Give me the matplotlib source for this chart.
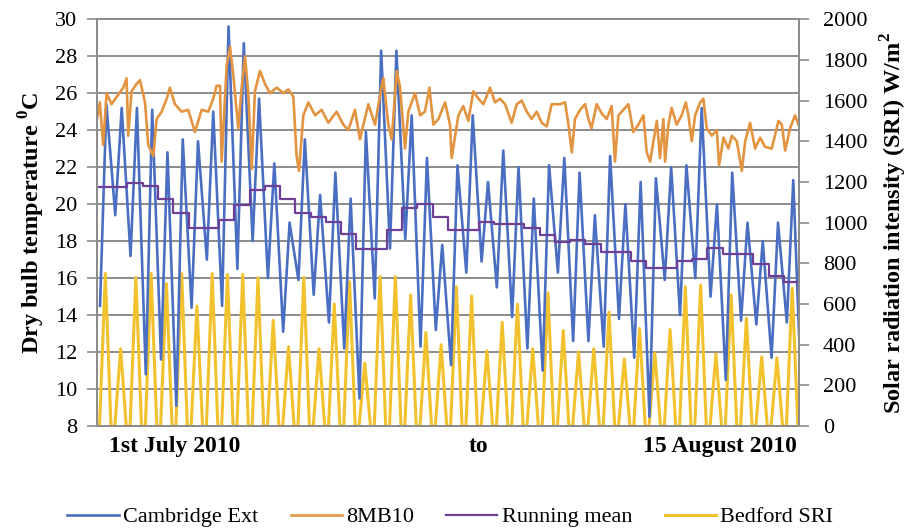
import matplotlib.pyplot as plt
import matplotlib as mpl
import numpy as np

mpl.rcParams['font.family'] = ['Liberation Serif', 'DejaVu Serif']
mpl.rcParams['mathtext.fontset'] = 'custom'
mpl.rcParams['mathtext.rm'] = 'Liberation Serif'
mpl.rcParams['mathtext.bf'] = 'Liberation Serif:bold'

# 数据：以天为单位（0 = 1st July 2010）
n_days = 46

# Cambridge Ext 每日最低 / 最高温度
cam_min = [14.5, 19.4, 17.2, 10.8, 11.6, 9.1, 14.4, 17.0, 14.5, 16.5, 18.0, 16.0, 13.1, 15.9, 15.1, 13.6,
           12.2, 9.5, 14.9, 17.6, 18.1, 12.3, 13.2, 11.3, 16.3, 16.9, 15.5, 13.9, 12.2, 11.0, 16.3,
           12.6, 12.6, 12.3, 13.8, 11.7, 8.5, 15.9, 14.0, 16.0, 15.0, 10.5, 13.7, 13.5, 11.7, 13.6]
cam_max = [25.4, 25.2, 25.2, 25.1, 22.8, 23.5, 23.4, 25.0, 29.6, 28.7, 25.7, 22.2, 19.0, 23.5, 20.5, 21.7,
           20.3, 23.9, 28.3, 28.3, 24.8, 22.5, 17.8, 22.1, 24.8, 21.2, 22.9, 22.0, 20.3, 22.1, 22.5,
           21.7, 19.4, 22.6, 20.0, 21.2, 21.4, 22.0, 22.1, 25.2, 20.0, 21.7, 19.0, 18.0, 19.0, 21.3]
cam_end = 12.9

# 8MB10 (时间, 温度)
mb_day = [0.0, 0.19, 0.41, 0.63, 0.96, 1.29, 1.73, 1.94, 2.05, 2.27, 2.6, 2.82, 3.15, 3.36, 3.69, 3.91,
          4.24, 4.57, 4.78, 5.11, 5.55, 5.98, 6.42, 6.86, 7.29, 7.62, 7.84, 8.06, 8.17, 8.5, 8.72, 8.93,
          9.26, 9.48, 9.7, 9.92, 10.14, 10.35, 10.68, 11.01, 11.34, 11.78, 12.21, 12.54, 12.87, 13.08,
          13.24, 13.52, 13.85, 14.29, 14.72, 15.16,
          15.7, 16.14, 16.47, 16.9, 17.23, 17.78, 18.22, 18.65, 18.76, 19.09, 19.31, 19.64, 19.86, 20.18,
          20.4, 20.84, 21.17, 21.49, 21.78, 22.04, 22.37, 22.81, 23.13, 23.24, 23.68, 24.0, 24.33, 24.66,
          24.99, 25.32, 25.75, 26.08, 26.41, 26.74, 27.17, 27.5, 27.83, 28.16, 28.48, 28.81, 29.14, 29.47,
          29.79, 30.34, 30.67,
          30.89, 31.11, 31.32, 31.65, 31.98, 32.2, 32.4, 32.74, 33.07, 33.4, 33.72, 33.94, 34.16, 34.49,
          34.82, 35.14, 35.47, 35.8, 36.02, 36.24, 36.46, 36.68, 36.89, 37.11, 37.22, 37.44, 37.65, 37.98,
          38.31, 38.58, 38.75, 38.97, 39.19, 39.52, 39.73, 39.95, 40.28, 40.61, 40.76, 41.05, 41.37, 41.59,
          41.92, 42.25, 42.47, 42.79, 43.12, 43.45, 43.77, 44.21, 44.65, 44.87, 45.09, 45.41, 45.74, 45.96]
mb_temp = [24.6, 25.5, 23.2, 26.0, 25.4, 25.8, 26.3, 26.8, 23.7, 26.1, 26.5, 26.7, 25.5, 23.2, 22.6, 24.6,
           25.0, 25.7, 26.3, 25.4, 25.0, 25.1, 23.9, 25.1, 25.0, 25.7, 26.4, 26.4, 22.3, 27.5, 28.5, 27.0,
           24.1, 26.3, 28.0, 25.9, 21.9, 26.1, 27.2, 26.5, 26.0, 26.3, 26.0, 26.2, 25.8, 22.6,
           21.8, 24.8, 25.5, 24.8, 25.1, 24.4,
           25.0, 24.3, 24.0, 25.1, 23.5, 25.4, 24.3, 26.4, 26.8, 24.3, 23.5, 27.2, 26.3, 23.0,
           25.0, 26.0, 24.8, 25.0, 26.3, 24.3, 24.6, 25.5, 24.3, 22.5, 24.8, 25.3, 24.5, 26.1,
           25.7, 25.4, 26.3, 25.5, 25.7, 25.4, 24.4, 25.4, 25.6, 25.0, 24.6, 25.0, 24.4, 24.2,
           25.4, 25.4, 25.5,
           24.3, 22.8, 24.6, 25.1, 25.4, 24.6, 24.1, 25.4, 24.9, 24.6, 25.3, 22.3, 24.8, 25.1,
           25.4, 23.9, 24.3, 24.8, 22.8, 22.3, 23.4, 24.5, 22.5, 24.6, 22.3, 24.3, 25.2, 24.3,
           24.8, 25.5, 24.8, 23.4, 24.8, 25.5, 25.7, 24.1, 23.7, 24.0, 22.1, 23.6, 23.0, 23.7,
           23.4, 21.8, 23.4, 24.4, 23.0, 23.6, 23.1, 23.0, 24.5, 24.3, 22.9, 24.1, 24.8, 24.3]

# Running mean 每日值
run_mean = [20.9, 20.9, 21.15, 21.0, 20.3, 19.5, 18.7, 18.7, 19.15, 19.95, 20.75, 21.0, 20.3, 19.5, 19.3,
            19.05, 18.4, 17.6, 17.6, 18.6, 19.8, 20.0, 19.3, 18.6, 18.6, 19.05, 18.9, 18.9, 18.7, 18.35,
            17.97, 18.05, 17.83, 17.44, 17.44, 16.9, 16.54, 16.54, 16.9, 17.06, 17.64, 17.28, 17.28,
            16.74, 16.13, 15.8]

# Bedford SRI 每日峰值 W/m2
sri_peak = [750, 380, 730, 750, 700, 750, 590, 750, 745, 745, 730, 520, 390, 730, 380, 600,
            710, 310, 735, 735, 645, 460, 400, 685, 640, 370, 510, 600, 380, 655, 470,
            365, 380, 560, 330, 480, 360, 475, 685, 693, 355, 645, 530, 340, 335, 678]

temp_ticks = np.arange(8, 31, 2)
sri_ticks = np.arange(0, 2001, 200)
x_labels = ['1st July 2010', 'to', '15 August 2010']

c_blue = '#4a6fc2'
c_orange = '#e39440'
c_purple = '#6e3f97'
c_yellow = '#f2c22e'
c_grid = '#8c8c8c'

# 组装折线
days = np.arange(n_days)
cam_x = np.column_stack([days + 0.2, days + 0.62]).ravel()
cam_y = np.column_stack([cam_min, cam_max]).ravel()
cam_x = np.append(cam_x, n_days)
cam_y = np.append(cam_y, cam_end)

sri_x = np.column_stack([days + 0.17, days + 0.55, days + 0.92]).ravel()
sri_y = np.column_stack([np.zeros(n_days), sri_peak, np.zeros(n_days)]).ravel()
sri_x = np.concatenate([[0], sri_x, [n_days]])
sri_y = np.concatenate([[0], sri_y, [0]])

rm_x = np.arange(n_days + 1)
rm_y = np.append(run_mean, run_mean[-1])

fig = plt.figure(figsize=(9.19, 5.32), dpi=100)
ax1 = fig.add_axes([0.1055, 0.199, 0.764, 0.765])
ax2 = ax1.twinx()

# 右轴：太阳辐射 + 网格（网格在最底层）
for t in temp_ticks:
    ax2.axhline((t - 8) / 22 * 2000, color=c_grid, lw=1.4, zorder=0)
ax2.plot(sri_x, sri_y, color=c_yellow, lw=2.2, zorder=2)
ax2.set_ylim(0, 2000)
ax2.set_yticks(sri_ticks)

# 左轴在上层
ax1.set_zorder(ax2.get_zorder() + 1)
ax1.patch.set_visible(False)
ax1.plot(cam_x, cam_y, color=c_blue, lw=1.9, label='Cambridge Ext')
ax1.plot(mb_day, mb_temp, color=c_orange, lw=1.9, label='8MB10')
ax1.step(rm_x, rm_y, where='post', color=c_purple, lw=1.6, label='Running mean')
ax1.plot([], [], color=c_yellow, lw=2.2, label='Bedford SRI')

ax1.set_xlim(0, n_days)
ax1.set_ylim(8, 30)
ax1.set_yticks(temp_ticks)
ax1.set_xticks([5.1, 25, 40.8], x_labels, fontsize=17, fontweight='bold')
ax1.tick_params(axis='x', length=0, pad=7)
ax1.tick_params(axis='y', labelsize=16, length=7, pad=7, color=c_grid, width=1.2)
ax2.tick_params(axis='y', labelsize=16, length=7, pad=10, color=c_grid, width=1.2)

for ax in (ax1, ax2):
    for s in ax.spines.values():
        s.set_color(c_grid)
        s.set_linewidth(1.4)

ax1.set_ylabel(r'Dry bulb temperature $^{\mathbf{0}}$C', fontsize=17.5, fontweight='bold', labelpad=6)
ax2.set_ylabel(r'Solar radiation intensity (SRI) W/m$^{\mathbf{2}}$', fontsize=17.5, fontweight='bold',
               labelpad=8)

fig.legend(loc='center', bbox_to_anchor=(0.49, 0.028), ncol=4, frameon=False, fontsize=16,
           handlelength=2.3, handletextpad=0.2, columnspacing=1.45)

fig.savefig('out.png', dpi=100)
